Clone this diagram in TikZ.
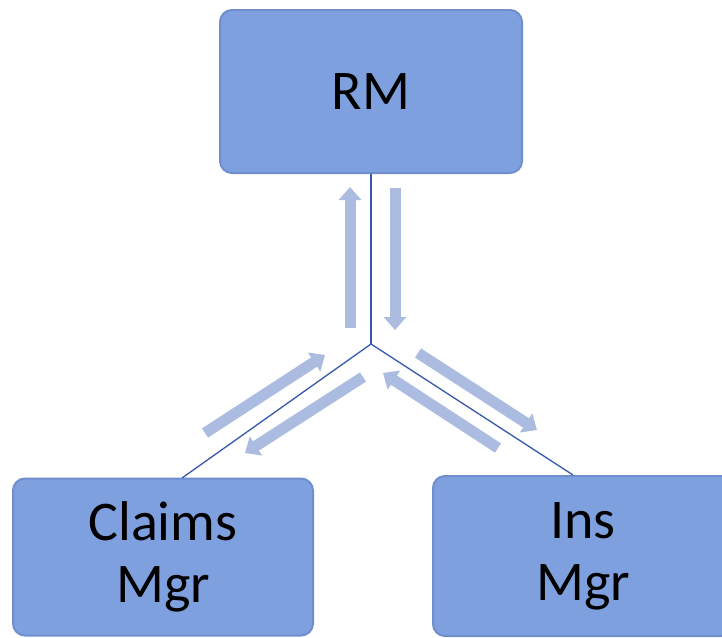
\documentclass[tikz,border=0pt]{standalone}
\usepackage{fontspec}
\setmainfont{Carlito}
\usetikzlibrary{arrows.meta}
\definecolor{boxfill}{RGB}{127,160,222}
\definecolor{boxedge}{RGB}{112,142,206}
\definecolor{arrowc}{RGB}{172,187,224}
\definecolor{linec}{RGB}{52,88,172}
\tikzset{
  rolebox/.style={rectangle, rounded corners=12pt, fill=boxfill, draw=boxedge, line width=2pt,
    align=center, font=\fontsize{56}{62}\selectfont, text=black, inner sep=0pt},
  fat/.style={draw=arrowc, line width=11pt, -{Triangle[width=22pt,length=13pt]}},
  link/.style={draw=linec, line width=1.3pt}
}
\begin{document}
\begin{tikzpicture}[x=1pt,y=-1pt]
\useasboundingbox (0,0) rectangle (722,637);
\clip (0,0) rectangle (722,637);
\fill[white] (0,0) rectangle (722,637);
\node[rolebox, minimum width=302pt, minimum height=163pt] (rm) at (371,91.5) {RM};
\node[rolebox, minimum width=300pt, minimum height=157pt] (cm) at (163,557) {Claims\\Mgr};
\node[rolebox, minimum width=300pt, minimum height=160pt] (im) at (583,556) {Ins\\Mgr};
\coordinate (j) at (371,344);
\coordinate (cl) at (182,478);
\coordinate (il) at (573,475);
\draw[link] (rm.south) -- (j);
\draw[link] (j) -- (cl);
\draw[link] (j) -- (il);
% fat arrows
\coordinate (u1) at (350,328); \coordinate (u2) at (350,187);
\coordinate (d1) at (395,188); \coordinate (d2) at (395,330);
\coordinate (a1) at (205,433); \coordinate (a2) at (325,355);
\coordinate (b1) at (363,377); \coordinate (b2) at (245,453);
\coordinate (c1) at (418,353); \coordinate (c2) at (537,430);
\coordinate (e1) at (498,448); \coordinate (e2) at (383,373);
\draw[fat] (u1) -- (u2);
\draw[fat] (d1) -- (d2);
\draw[fat] (a1) -- (a2);
\draw[fat] (b1) -- (b2);
\draw[fat] (c1) -- (c2);
\draw[fat] (e1) -- (e2);
\end{tikzpicture}
\end{document}
